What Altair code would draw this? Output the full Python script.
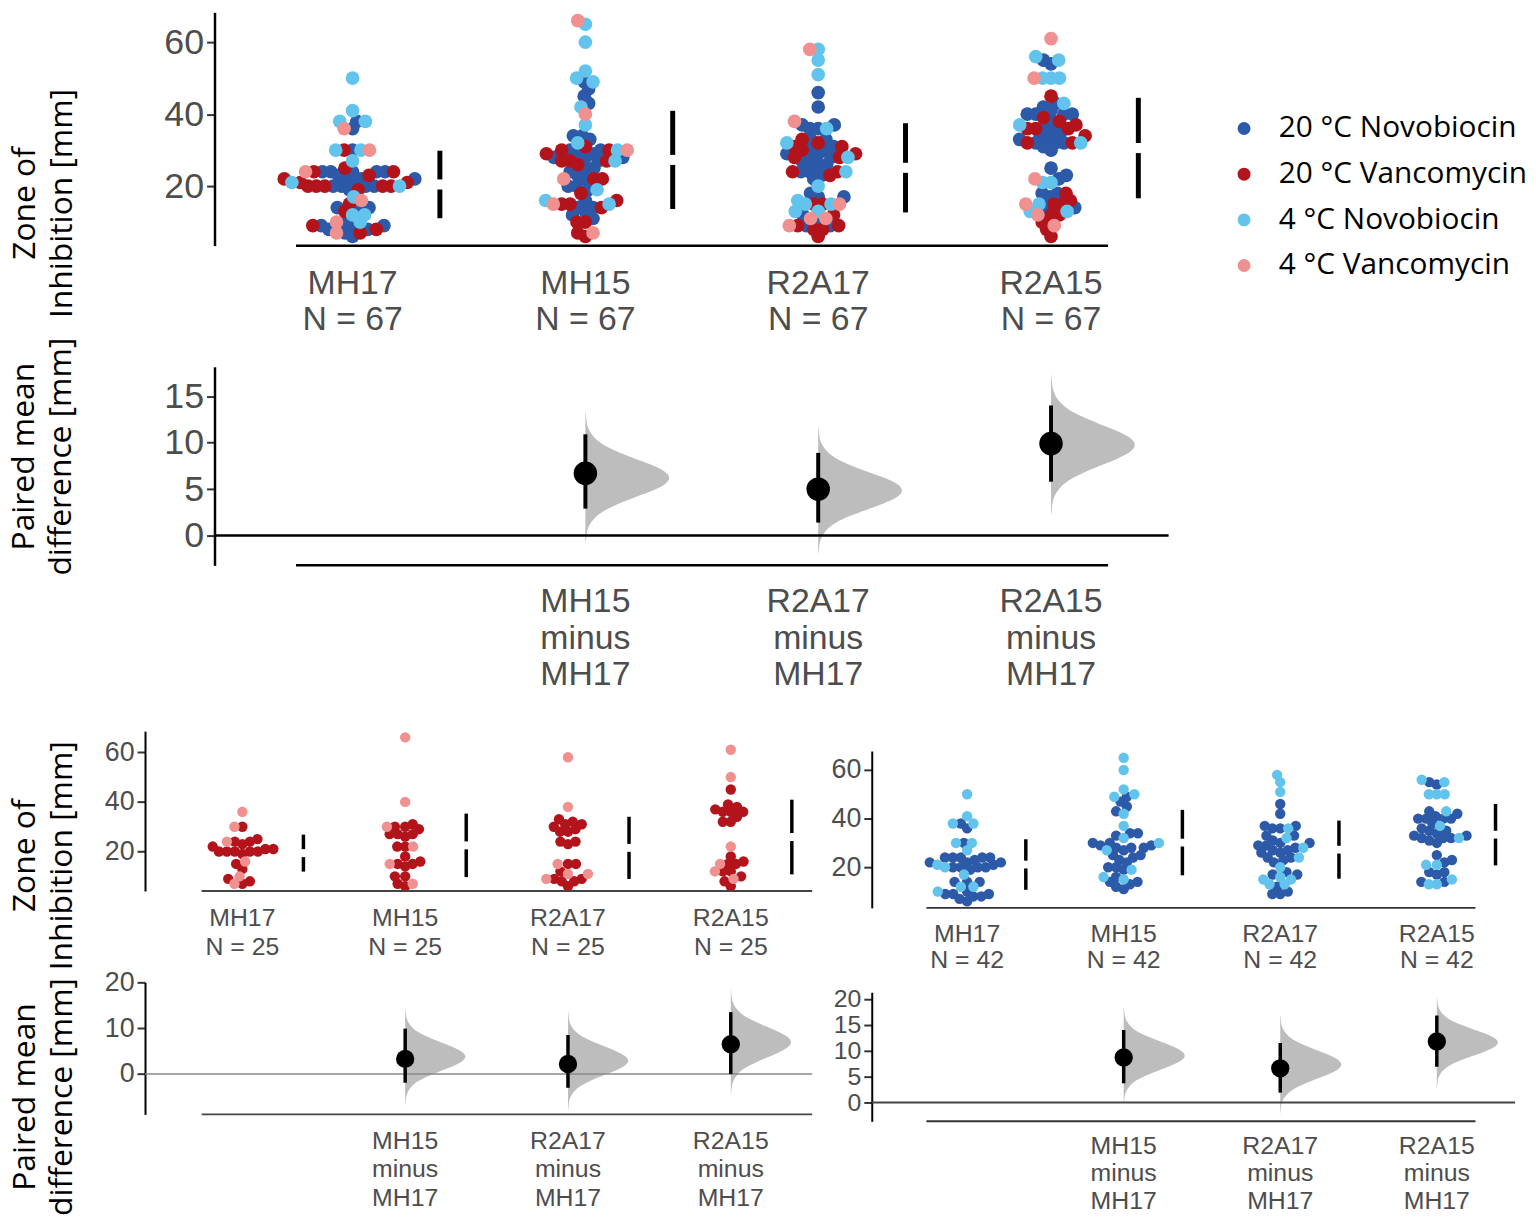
import altair as alt
import pandas as pd

GROUPS = ["MH17", "MH15", "R2A17", "R2A15"]
CATS = ["20 °C Novobiocin", "20 °C Vancomycin", "4 °C Novobiocin", "4 °C Vancomycin"]
COLORS = ["#2c5aa8", "#b3141c", "#62c4ec", "#f0908f"]

# zone of inhibition [mm]
MH17_NOVO20 = [38, 36, 30, 24, 20, 24, 22, 19, 24, 20, 24, 21, 24, 22, 20, 23, 14, 14, 14, 10, 9, 8, 7, 6, 9, 8, 9, 20, 22]
MH17_NOVO4 = [50, 41, 38, 38, 30, 30, 27, 21, 20, 17, 12, 12, 10]
MH17_VANC20 = [30, 20, 21, 20, 23, 25, 20, 21, 24, 20, 20, 15, 13, 9, 7, 8, 24, 22, 19]
MH17_VANC4 = [36, 30, 24, 16, 10, 7]

MH15_NOVO20 = [49, 47, 43, 45, 34, 34, 33, 29, 28, 27, 30, 28, 29, 28, 25, 24, 25, 23, 22, 19, 20, 20, 16, 14, 12, 14, 13, 11, 30]
MH15_NOVO4 = [65, 60, 50, 49, 52, 42, 37, 32, 27, 30, 19, 16, 15]
MH15_VANC20 = [29, 30, 30, 31, 26, 27, 27, 27, 22, 22, 18, 16, 15, 14, 15, 10, 10, 6, 7]
MH15_VANC4 = [66, 40, 30, 22, 15, 7]

R2A17_NOVO20 = [46, 42, 36, 37, 37, 36, 33, 31, 29, 30, 29, 30, 26, 27, 26, 27, 24, 23, 24, 22, 18, 17, 12, 9, 9, 10, 17, 33, 28]
R2A17_NOVO4 = [58, 55, 51, 32, 36, 28, 24, 15, 16, 15, 13, 13, 20]
R2A17_VANC20 = [31, 32, 33, 30, 28, 29, 31, 28, 24, 23, 24, 15, 12, 15, 9, 8, 6, 9, 8]
R2A17_VANC4 = [58, 38, 15, 11, 9, 11]

R2A15_NOVO20 = [54, 55, 43, 42, 40, 38, 40, 41, 40, 40, 35, 35, 33, 32, 30, 33, 32, 31, 32, 23, 25, 22, 17, 18, 18, 14, 14, 34, 36]
R2A15_NOVO4 = [55, 56, 50, 50, 50, 43, 37, 32, 21, 21, 13, 13, 15]
R2A15_VANC20 = [45, 37, 39, 38, 36, 34, 32, 36, 32, 36, 16, 12, 15, 18, 12, 10, 15, 8, 6]
R2A15_VANC4 = [61, 50, 22, 12, 15, 9]

# paired mean differences (vs MH17)
CONTRASTS = ["MH15\nminus\nMH17", "R2A17\nminus\nMH17", "R2A15\nminus\nMH17"]
ALL_MEAN = [6.7, 5.0, 9.9]
ALL_CI_LO = [2.9, 1.4, 5.8]
ALL_CI_HI = [10.9, 8.9, 14.0]
ALL_DIST_MIN = [-1.0, -2.1, 2.1]
ALL_DIST_MAX = [13.4, 11.8, 17.4]

VANC_MEAN = [3.3, 2.2, 6.5]
VANC_CI_LO = [-1.9, -3.0, 0.0]
VANC_CI_HI = [9.9, 8.5, 13.5]
VANC_DIST_MIN = [-7.0, -8.1, -4.8]
VANC_DIST_MAX = [14.6, 13.9, 18.7]

NOVO_MEAN = [8.7, 6.6, 11.8]
NOVO_CI_LO = [3.7, 1.9, 6.9]
NOVO_CI_HI = [14.0, 11.5, 16.8]
NOVO_DIST_MIN = [-0.5, -2.3, 2.7]
NOVO_DIST_MAX = [18.6, 17.0, 20.5]

# outline of the bootstrap half-violins (relative position, relative width)
PROFILE_T = [0.0, 0.05, 0.1, 0.15, 0.2, 0.25, 0.3, 0.35, 0.4, 0.45, 0.5,
             0.55, 0.6, 0.65, 0.7, 0.75, 0.8, 0.85, 0.9, 0.95, 1.0]
PROFILE_W = [0.0, 0.01, 0.02, 0.05, 0.11, 0.21, 0.37, 0.57, 0.78, 0.94, 1.0,
             0.94, 0.78, 0.57, 0.37, 0.21, 0.11, 0.05, 0.02, 0.01, 0.0]

SERIES = [
    (0, 0, MH17_NOVO20), (0, 1, MH17_VANC20), (0, 2, MH17_NOVO4), (0, 3, MH17_VANC4),
    (1, 0, MH15_NOVO20), (1, 1, MH15_VANC20), (1, 2, MH15_NOVO4), (1, 3, MH15_VANC4),
    (2, 0, R2A17_NOVO20), (2, 1, R2A17_VANC20), (2, 2, R2A17_NOVO4), (2, 3, R2A17_VANC4),
    (3, 0, R2A15_NOVO20), (3, 1, R2A15_VANC20), (3, 2, R2A15_NOVO4), (3, 3, R2A15_VANC4),
]

FONT_NUM = "Liberation Sans"
FONT_TITLE = "Open Sans"
BAR_DX = 0.375


def swarm_offsets(values, ky, kx, d):
    order = sorted(range(len(values)), key=lambda i: values[i])
    placed = []
    offs = [0.0] * len(values)
    for i in order:
        y = values[i] * ky
        cands = [0.0]
        for px, py in placed:
            dy = y - py
            if abs(dy) < d:
                dx = (d * d - dy * dy) ** 0.5
                cands.append(px + dx)
                cands.append(px - dx)
        cands.sort(key=lambda c: (abs(c), c))
        chosen = cands[-1]
        for c in cands:
            if all((c - px) ** 2 + (y - py) ** 2 >= d * d - 1e-6 for px, py in placed):
                chosen = c
                break
        placed.append((chosen, y))
        offs[i] = chosen / kx
    return offs


def panel_df(cat_ids, ky, kx, d):
    rows = []
    for g in range(4):
        vals, cats = [], []
        for gi, ci, lst in SERIES:
            if gi == g and ci in cat_ids:
                for v in lst:
                    vals.append(v)
                    cats.append(ci)
        offs = swarm_offsets(vals, ky, kx, d)
        for v, c, o in zip(vals, cats, offs):
            rows.append(dict(idx=g, value=v, xpos=g + o, cat=CATS[c], hex=COLORS[c], ord=c))
    return pd.DataFrame(rows)


def yaxis(values, fsize, dw, offset=0, title=None, tx=0.0, ty=0.0, tick_count=None):
    kw = dict(orient="left", offset=offset, grid=False, domain=True,
              domainColor="black", domainWidth=dw,
              ticks=True, tickColor="#333333", tickSize=8, tickWidth=2,
              labelFont=FONT_NUM, labelFontSize=fsize, labelColor="#4d4d4d", labelPadding=3,
              labelOverlap=False)
    if tick_count is None:
        kw["values"] = values
    else:
        kw["tickCount"] = tick_count
    if title is None:
        kw["title"] = None
    else:
        kw.update(title=title, titleX=tx, titleY=ty, titleAngle=270, titleAlign="center",
                  titleBaseline="middle", titleFont=FONT_TITLE, titleFontSize=32,
                  titleFontWeight="normal", titleColor="black", titleLineHeight=37)
    return alt.Axis(**kw)


def swarm_layers(df, xdom, xrange, ydom, yrange, axis, pt_size, color, bar_w, gap,
                 spine, spine_w, spine_col, lab_texts, lab_fs, lab_lh, lab_dy):
    xs = alt.Scale(domain=xdom, range=xrange, nice=False, zero=False)
    ys = alt.Scale(domain=ydom, range=yrange, nice=False, zero=False)
    bottom = yrange[0]
    pts = alt.Chart(df).mark_circle(size=pt_size, opacity=1).encode(
        x=alt.X("xpos:Q", scale=xs, axis=None),
        y=alt.Y("value:Q", scale=ys, axis=axis),
        color=color,
        order=alt.Order("ord:Q"),
    )
    stats = alt.Chart(df).transform_aggregate(
        m="mean(value)", s="stdev(value)", groupby=["idx"]
    ).transform_calculate(
        lo="datum.m - datum.s", hi="datum.m + datum.s",
        g1=f"datum.m - {gap}", g2=f"datum.m + {gap}", xb=f"datum.idx + {BAR_DX}",
    )
    b1 = stats.mark_rule(color="black", strokeWidth=bar_w).encode(
        x=alt.X("xb:Q", axis=None), y=alt.Y("lo:Q"), y2="g1:Q")
    b2 = stats.mark_rule(color="black", strokeWidth=bar_w).encode(
        x=alt.X("xb:Q", axis=None), y=alt.Y("g2:Q"), y2="hi:Q")
    sp = alt.Chart(pd.DataFrame({"a": [spine[0]], "b": [spine[1]]})).mark_rule(
        color=spine_col, strokeWidth=spine_w).encode(
        x=alt.X("a:Q", axis=None), x2="b:Q", y=alt.value(bottom))
    labs = alt.Chart(pd.DataFrame({"idx": list(range(4)), "label": lab_texts})).mark_text(
        lineBreak="\n", align="center", baseline="middle", font=FONT_NUM, fontSize=lab_fs,
        lineHeight=lab_lh, color="#4d4d4d").encode(
        x=alt.X("idx:Q", axis=None), y=alt.value(bottom + lab_dy), text="label:N")
    return alt.layer(pts, b1, b2, sp, labs)


def diff_layers(means, los, his, dmin, dmax, xdom, xrange, ydom, yrange, axis,
                dot_size, ci_w, vw, zero_col, zero_w, spine, spine_w, spine_col, lab_fs, lab_lh, lab_dy):
    xs = alt.Scale(domain=xdom, range=xrange, nice=False, zero=False)
    ys = alt.Scale(domain=ydom, range=yrange, nice=False, zero=False)
    bottom = yrange[0]
    rows = []
    for k in range(3):
        for t, w in zip(PROFILE_T, PROFILE_W):
            rows.append(dict(c=k, y=dmin[k] + t * (dmax[k] - dmin[k]), x0=k + 1, x1=k + 1 + vw * w))
    vdf = pd.DataFrame(rows)
    viol = alt.Chart(vdf).mark_area(orient="horizontal", color="#bdbdbd", opacity=1,
                                    interpolate="monotone").encode(
        y=alt.Y("y:Q", scale=ys, axis=axis),
        x=alt.X("x1:Q", scale=xs, axis=None), x2="x0:Q", detail="c:N")
    zero = alt.Chart(pd.DataFrame({"z": [0]})).mark_rule(color=zero_col, strokeWidth=zero_w).encode(
        x=alt.value(xrange[0]), x2=alt.value(xrange[1]), y=alt.Y("z:Q"))
    sdf = pd.DataFrame(dict(idx=[1, 2, 3], m=means, lo=los, hi=his))
    ci = alt.Chart(sdf).mark_rule(color="black", strokeWidth=ci_w).encode(
        x=alt.X("idx:Q", axis=None), y=alt.Y("lo:Q"), y2="hi:Q")
    dot = alt.Chart(sdf).mark_circle(size=dot_size, color="black", opacity=1).encode(
        x=alt.X("idx:Q", axis=None), y=alt.Y("m:Q"))
    sp = alt.Chart(pd.DataFrame({"a": [spine[0]], "b": [spine[1]]})).mark_rule(
        color=spine_col, strokeWidth=spine_w).encode(
        x=alt.X("a:Q", axis=None), x2="b:Q", y=alt.value(bottom))
    labs = alt.Chart(pd.DataFrame({"idx": [1, 2, 3], "label": CONTRASTS})).mark_text(
        lineBreak="\n", align="center", baseline="middle", font=FONT_NUM, fontSize=lab_fs,
        lineHeight=lab_lh, color="#4d4d4d").encode(
        x=alt.X("idx:Q", axis=None), y=alt.value(bottom + lab_dy), text="label:N")
    return alt.layer(viol, zero, ci, dot, sp, labs)


# ---------- data per panel ----------
top_df = panel_df([0, 1, 2, 3], 3.625, 234.5, 8.5)
van_df = panel_df([1, 3], 2.5, 164, 8)
nov_df = panel_df([0, 2], 2.45, 157.7, 8)

top_labels = [f"{g}\nN = 67" for g in GROUPS]
van_labels = [f"{g}\nN = 25" for g in GROUPS]
nov_labels = [f"{g}\nN = 42" for g in GROUPS]

color_top = alt.Color(
    "cat:N", scale=alt.Scale(domain=CATS, range=COLORS),
    legend=alt.Legend(orient="none", legendX=1022, legendY=102, title=None, labelFont=FONT_TITLE,
                      labelFontSize=30, labelColor="black", symbolType="circle", symbolSize=170,
                      symbolStrokeWidth=0, symbolOpacity=1, rowPadding=16, labelOffset=20,
                      padding=0, labelLimit=400))
color_id = alt.Color("hex:N", scale=None)

TITLE_ZONE = ["Zone of", "Inhibition [mm]"]
TITLE_DIFF = ["Paired mean", "difference [mm]"]

# layout (pixels, relative to the top plot's left edge)
TOP_X = [0, 961]
BL_X = [-70, 602]
BR_X = [662, 1310]

row1 = swarm_layers(
    top_df, [-0.593, 3.505], TOP_X, [3.45, 68.3], [235, 0],
    yaxis([20, 40, 60], 36, 2.5, 0, TITLE_ZONE, -191, 192),
    190, color_top, 5, 1.4, [-0.243, 3.245], 2.5, "black", top_labels, 34, 36, 39,
).properties(width=961, height=357)

row2 = diff_layers(
    ALL_MEAN, ALL_CI_LO, ALL_CI_HI, ALL_DIST_MIN, ALL_DIST_MAX,
    [-0.593, 3.505], TOP_X, [-3.2, 18.16], [200, 0],
    yaxis([0, 5, 10, 15], 36, 2.5, 0, TITLE_DIFF, -192, 90),
    560, 4, 0.36, "black", 2.5, [-0.243, 3.245], 2.5, "black", 34, 37, 37,
).properties(width=961, height=367)

bl_sw = swarm_layers(
    van_df, [-0.598, 3.5], BL_X, [4.1, 68.5], [161, 0],
    yaxis([20, 40, 60], 27, 2, 70, TITLE_ZONE, -121, 125),
    110, color_id, 3.5, 1.6, [-0.25, 3.5], 2, "#444444", van_labels, 25, 29, 27)
br_sw = swarm_layers(
    nov_df, [-0.609, 3.5], BR_X, [3.3, 67.8], [178, 20],
    yaxis([20, 40, 60], 27, 2, -662),
    110, color_id, 3.5, 1.6, [-0.26, 3.247], 2, "#333333", nov_labels, 25, 27, 26)
row3 = alt.layer(bl_sw, br_sw).resolve_scale(x="independent", y="independent").properties(
    width=1310, height=253)

bl_diff = diff_layers(
    VANC_MEAN, VANC_CI_LO, VANC_CI_HI, VANC_DIST_MIN, VANC_DIST_MAX,
    [-0.598, 3.5], BL_X, [-8.8, 20.0], [133, 0],
    yaxis([0, 10, 20], 27, 2, 70, TITLE_DIFF, -121, 115),
    340, 3.5, 0.37, "#8a8a8a", 1.5, [-0.25, 3.5], 2, "#444444", 25, 28.5, 27)
br_diff = diff_layers(
    NOVO_MEAN, NOVO_CI_LO, NOVO_CI_HI, NOVO_DIST_MIN, NOVO_DIST_MAX,
    [-0.609, 3.5], BR_X, [-3.65, 21.3], [140, 10],
    yaxis([0, 5, 10, 15, 20], 25, 2, -662, tick_count=5),
    340, 3.5, 0.39, "#444444", 2, [-0.26, 3.247], 2, "#333333", 25, 27.5, 25)
row4 = alt.layer(br_diff, bl_diff).resolve_scale(x="independent", y="independent").properties(
    width=1310, height=140)

chart = alt.vconcat(row1, row2, row3, row4, spacing=0, bounds="flush").resolve_scale(
    x="independent", y="independent"
).properties(padding=0, background="white").configure_view(strokeWidth=0)

chart.save("out.html", embed_options={"renderer": "svg", "actions": False})
